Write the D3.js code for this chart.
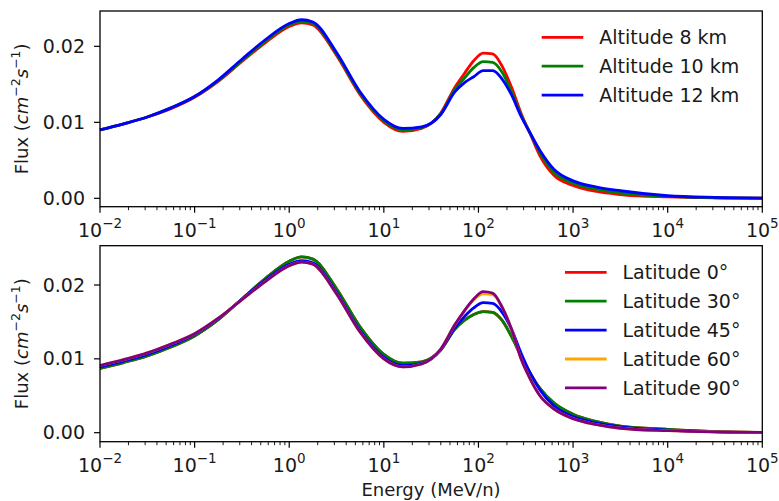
<!DOCTYPE html>
<html>
<head>
<meta charset="utf-8">
<script src="https://cdn.jsdelivr.net/npm/d3@7"></script>
<style>
  body { margin: 0; background: #fff; }
  text { font-family: "DejaVu Sans", sans-serif; fill: #1a1a1a; }
</style>
</head>
<body>
<div id="chart"></div>
<script>
// log10 of energy (MeV/n) at each sample
let energyExp = [-2, -1.75, -1.5, -1.25, -1, -0.75, -0.5, -0.25, 0, 0.13, 0.25, 0.5, 0.75, 1, 1.2, 1.4, 1.6, 1.75, 1.85, 1.95, 2.05, 2.15, 2.25, 2.35, 2.45, 2.55, 2.65, 2.8, 3, 3.25, 3.5, 4, 4.5, 5];

// top panel: altitude
let alt8  = [0.0090, 0.0098, 0.0107, 0.0118, 0.0133, 0.0154, 0.0180, 0.0205, 0.0226, 0.0231, 0.0228, 0.0188, 0.0136, 0.0100, 0.0088, 0.0092, 0.0112, 0.0146, 0.0164, 0.0181, 0.0191, 0.0190, 0.0174, 0.0146, 0.0112, 0.0084, 0.0056, 0.0030, 0.0017, 0.0009, 0.0005, 0.00018, 0.00005, 0.00001];
let alt10 = [0.0090, 0.0098, 0.0107, 0.0119, 0.0134, 0.0155, 0.0181, 0.0207, 0.0228, 0.0233, 0.0230, 0.0190, 0.0138, 0.0102, 0.0090, 0.0093, 0.0111, 0.0143, 0.0158, 0.0172, 0.0180, 0.0179, 0.0166, 0.0140, 0.0110, 0.0085, 0.0060, 0.0034, 0.0020, 0.0012, 0.0007, 0.00026, 0.00008, 0.00002];
let alt12 = [0.0090, 0.0098, 0.0107, 0.0119, 0.0134, 0.0156, 0.0183, 0.0209, 0.0230, 0.0235, 0.0232, 0.0192, 0.0140, 0.0104, 0.0092, 0.0094, 0.0110, 0.0140, 0.0152, 0.0160, 0.0168, 0.0168, 0.0157, 0.0136, 0.0108, 0.0085, 0.0063, 0.0038, 0.0023, 0.00148, 0.0010, 0.00034, 0.00012, 0.00003];

// bottom panel: latitude
let lat0  = [0.0087, 0.0095, 0.0104, 0.0116, 0.0131, 0.0153, 0.0181, 0.0209, 0.0232, 0.0238, 0.0235, 0.0195, 0.0143, 0.0106, 0.0094, 0.0096, 0.0112, 0.0140, 0.0152, 0.0160, 0.0164, 0.0163, 0.0152, 0.0130, 0.0104, 0.0080, 0.0060, 0.0040, 0.0025, 0.0015, 0.0009, 0.00045, 0.00015, 0.00005];
let lat30 = [0.0087, 0.0095, 0.0104, 0.0116, 0.0131, 0.0153, 0.0181, 0.0209, 0.0232, 0.0238, 0.0235, 0.0195, 0.0143, 0.0106, 0.0094, 0.0096, 0.0112, 0.0140, 0.0152, 0.0160, 0.0164, 0.0163, 0.0152, 0.0130, 0.0104, 0.0080, 0.0060, 0.0040, 0.0025, 0.0015, 0.0009, 0.00045, 0.00015, 0.00005];
let lat45 = [0.0089, 0.0097, 0.0106, 0.0118, 0.0133, 0.0154, 0.0181, 0.0207, 0.0228, 0.0233, 0.0230, 0.0190, 0.0138, 0.0102, 0.0091, 0.0094, 0.0112, 0.0142, 0.0157, 0.0169, 0.0176, 0.0175, 0.0163, 0.0140, 0.0108, 0.0080, 0.0058, 0.0036, 0.0022, 0.0013, 0.0008, 0.00035, 0.00012, 0.00004];
let lat60 = [0.0091, 0.0099, 0.0108, 0.0120, 0.0134, 0.0155, 0.0180, 0.0205, 0.0226, 0.0231, 0.0228, 0.0188, 0.0136, 0.0100, 0.0089, 0.0093, 0.0113, 0.0146, 0.0164, 0.0180, 0.0188, 0.0187, 0.0170, 0.0140, 0.0100, 0.0072, 0.0050, 0.0032, 0.0019, 0.0011, 0.0006, 0.00027, 0.0001, 0.00003];
let lat90 = [0.0091, 0.0099, 0.0108, 0.0120, 0.0134, 0.0155, 0.0180, 0.0205, 0.0226, 0.0231, 0.0228, 0.0188, 0.0136, 0.0100, 0.0089, 0.0093, 0.0113, 0.0146, 0.0165, 0.0181, 0.0191, 0.0189, 0.0170, 0.0140, 0.0100, 0.0072, 0.0050, 0.0032, 0.0019, 0.0011, 0.0006, 0.00027, 0.0001, 0.00003];

let xExps = [-2, -1, 0, 1, 2, 3, 4, 5];
let yTicks = [0, 0.01, 0.02];

let topSeries = [
  {name: 'Altitude 8 km', color: 'red', vals: alt8},
  {name: 'Altitude 10 km', color: 'green', vals: alt10},
  {name: 'Altitude 12 km', color: 'blue', vals: alt12}
];
let botSeries = [
  {name: 'Latitude 0°', color: 'red', vals: lat0},
  {name: 'Latitude 30°', color: 'green', vals: lat30},
  {name: 'Latitude 45°', color: 'blue', vals: lat45},
  {name: 'Latitude 60°', color: 'orange', vals: lat60},
  {name: 'Latitude 90°', color: 'purple', vals: lat90}
];

let W = 779, H = 501;
let svg = d3.select('#chart').append('svg').attr('width', W).attr('height', H);

let x = d3.scaleLog().domain([1e-2, 1e5]).range([100, 762.3]);

let minor = [];
xExps.slice(0, -1).forEach(e => { for (let k = 2; k < 10; k++) minor.push(k * Math.pow(10, e)); });

function panel(top, bottom, yDom, series, legX, legY) {
  let y = d3.scaleLinear().domain(yDom).range([bottom, top]);
  let g = svg.append('g');

  let line = d3.line()
    .x((d, i) => x(Math.pow(10, energyExp[i])))
    .y(d => y(d))
    .curve(d3.curveMonotoneX);

  series.forEach(s => {
    g.append('path').attr('d', line(s.vals))
      .attr('fill', 'none').attr('stroke', s.color)
      .attr('stroke-width', 2.8).attr('stroke-linejoin', 'round');
  });

  // frame
  g.append('rect').attr('x', x.range()[0]).attr('y', top)
    .attr('width', x.range()[1] - x.range()[0]).attr('height', bottom - top)
    .attr('fill', 'none').attr('stroke', '#000').attr('stroke-width', 1.3);

  // x ticks
  let xa = g.append('g').attr('transform', 'translate(0,' + bottom + ')');
  xa.selectAll('.maj').data(xExps).enter().append('line')
    .attr('x1', d => x(Math.pow(10, d))).attr('x2', d => x(Math.pow(10, d)))
    .attr('y1', 0).attr('y2', 6).attr('stroke', '#000').attr('stroke-width', 1.2);
  xa.selectAll('.min').data(minor).enter().append('line')
    .attr('x1', d => x(d)).attr('x2', d => x(d))
    .attr('y1', 0).attr('y2', 3.5).attr('stroke', '#000').attr('stroke-width', 0.9);
  let lab = xa.selectAll('.lab').data(xExps).enter().append('text')
    .attr('x', d => x(Math.pow(10, d))).attr('y', 30)
    .attr('text-anchor', 'middle').style('font-size', '19px');
  lab.append('tspan').text('10');
  lab.append('tspan').attr('dy', -9).style('font-size', '13.5px')
    .text(d => d < 0 ? '\u2212' + (-d) : d);

  // y ticks
  yTicks.forEach(v => {
    g.append('line').attr('x1', 94).attr('x2', 100).attr('y1', y(v)).attr('y2', y(v))
      .attr('stroke', '#000').attr('stroke-width', 1.2);
    g.append('text').attr('x', 85).attr('y', y(v)).attr('dy', '0.35em')
      .attr('text-anchor', 'end').style('font-size', '19px').text(d3.format('.2f')(v));
  });

  // y label
  let yl = g.append('text')
    .attr('transform', 'translate(28,' + ((top + bottom) / 2) + ') rotate(-90)')
    .attr('text-anchor', 'middle').style('font-size', '18px');
  yl.append('tspan').text('Flux (');
  yl.append('tspan').style('font-style', 'italic').text('cm');
  yl.append('tspan').attr('dy', -8).style('font-size', '12.5px').text('\u22122');
  yl.append('tspan').attr('dy', 8).style('font-style', 'italic').text('s');
  yl.append('tspan').attr('dy', -8).style('font-size', '12.5px').text('\u22121');
  yl.append('tspan').attr('dy', 8).text(')');

  // legend
  series.forEach((s, i) => {
    let ly = legY + i * 28.9;
    g.append('line').attr('x1', legX).attr('x2', legX + 41.6).attr('y1', ly).attr('y2', ly)
      .attr('stroke', s.color).attr('stroke-width', 2.8);
    g.append('text').attr('x', legX + 57.5).attr('y', ly).attr('dy', '0.35em')
      .style('font-size', '19px').text(s.name);
  });
}

panel(11, 206.7, [-0.0011, 0.02465], topSeries, 541.7, 37.3);
panel(245.7, 441.7, [-0.00122, 0.02532], botSeries, 565, 272.3);

svg.append('text').attr('x', 431).attr('y', 496).attr('text-anchor', 'middle')
  .style('font-size', '18px').text('Energy (MeV/n)');
</script>
</body>
</html>
